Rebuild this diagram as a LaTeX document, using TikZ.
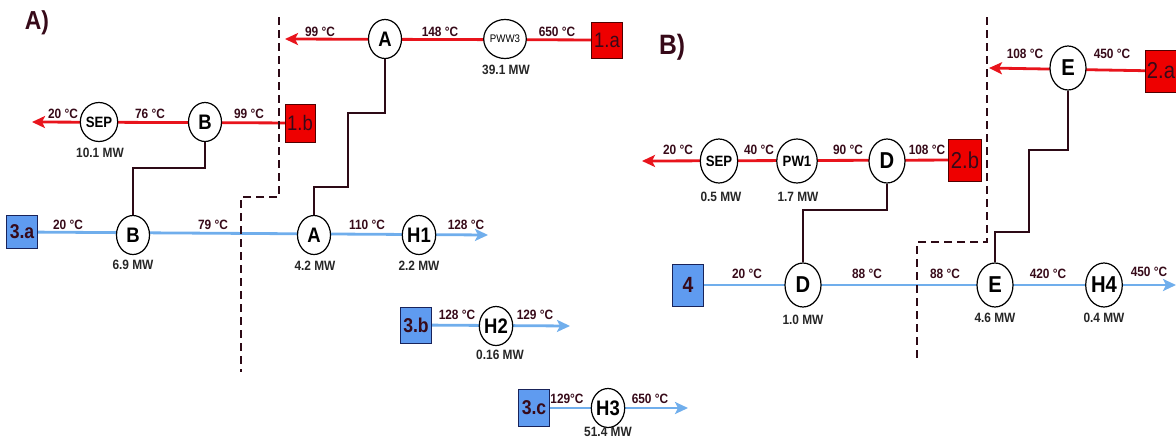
\documentclass[tikz,border=0pt]{standalone}
\usepackage{fontspec}
\setmainfont{Liberation Sans}[FakeStretch=0.88]
\usetikzlibrary{shapes.geometric,arrows.meta,backgrounds}
\definecolor{hotred}{RGB}{232,20,28}
\definecolor{coldblue}{RGB}{112,174,236}
\definecolor{boxblue}{RGB}{95,155,240}
\definecolor{boxblueb}{RGB}{25,35,90}
\definecolor{boxred}{RGB}{238,0,0}
\definecolor{boxredb}{RGB}{80,0,0}
\definecolor{txt}{RGB}{55,10,25}
\definecolor{linkc}{RGB}{45,10,22}
\begin{document}
\begin{tikzpicture}[x=1pt,y=-1pt,
  hot/.style={draw=hotred,line width=2.8pt},
  cold/.style={draw=coldblue,line width=2.8pt},
  hotarrow/.style={hot,-{Stealth[length=13pt,width=12pt,inset=3pt]}},
  coldarrow/.style={cold,-{Stealth[length=13pt,width=12pt,inset=3pt]}},
  link/.style={draw=linkc,line width=2.4pt},
  boundary/.style={draw=linkc,line width=2.3pt,dash pattern=on 8pt off 5pt},
  hxa/.style={ellipse,draw=black,line width=1.2pt,fill=white,minimum width=33pt,minimum height=39pt,inner sep=0pt,font=\bfseries\fontsize{21}{21}\selectfont},
  hxb/.style={hxa,minimum width=36pt,minimum height=44pt,font=\bfseries\fontsize{23}{23}\selectfont},
  hxs/.style={font=\bfseries\fontsize{15}{15}\selectfont},
  rbox/.style={rectangle,draw=boxredb,line width=1pt,fill=boxred,inner sep=0pt,text=txt,font=\fontsize{21}{21}\selectfont},
  bbox/.style={rectangle,draw=boxblueb,line width=1pt,fill=boxblue,inner sep=0pt,text=txt,font=\bfseries\fontsize{20}{20}\selectfont},
  lbl/.style={inner sep=0pt,text=txt,font=\bfseries\fontsize{13.5}{13.5}\selectfont},
  mw/.style={inner sep=0pt,text=black!85,font=\bfseries\fontsize{13.5}{13.5}\selectfont},
  ttl/.style={inner sep=0pt,text=txt,font=\bfseries\fontsize{26}{26}\selectfont}
]
\useasboundingbox (0,0) rectangle (1176,445);

% ================= Panel A =================
\node[ttl] (tA) at (37,23) {A)};

% hot stream 1.a
\node[rbox,minimum width=31pt,minimum height=36pt] (b1a) at (607,40) {1.a};
\node[hxa,font=\fontsize{11}{11}\selectfont] (pww3) at (505,39) {PWW3};
\node[hxa] (Ah) at (385,39) {A};
\coordinate (e1a) at (285,39);
\node[lbl] (l1) at (320,32) {99 °C};
\node[lbl] (l2) at (440,32) {148 °C};
\node[lbl] (l3) at (557,32) {650 °C};
\node[mw] (m1) at (506,70) {39.1 MW};

% hot stream 1.b
\node[rbox,minimum width=30pt,minimum height=38pt] (b1b) at (300,123) {1.b};
\node[hxa] (Bh) at (205,122) {B};
\node[hxa,hxs] (sepA) at (99,122) {SEP};
\coordinate (e1b) at (32,122);
\node[lbl] (l4) at (249,114) {99 °C};
\node[lbl] (l5) at (150,114) {76 °C};
\node[lbl] (l6) at (63,114) {20 °C};
\node[mw] (m2) at (100,153) {10.1 MW};

% cold stream 3.a
\node[bbox,minimum width=31pt,minimum height=33pt] (b3a) at (22,232) {3.a};
\node[hxa] (Bc) at (133,235) {B};
\node[hxa] (Ac) at (314,235) {A};
\node[hxa] (H1) at (419,235) {H1};
\coordinate (e3a) at (488,235);
\node[lbl] (l7) at (68,225) {20 °C};
\node[lbl] (l8) at (213,225) {79 °C};
\node[lbl] (l9) at (367,225) {110 °C};
\node[lbl] (l10) at (466,225) {128 °C};
\node[mw] (m3) at (133,265) {6.9 MW};
\node[mw] (m4) at (315,266) {4.2 MW};
\node[mw] (m5) at (419,266) {2.2 MW};

% cold stream 3.b
\node[bbox,minimum width=31pt,minimum height=36pt] (b3b) at (416,325) {3.b};
\node[hxa] (H2) at (496,326) {H2};
\coordinate (e3b) at (570,326);
\node[lbl] (l11) at (457,315) {128 °C};
\node[lbl] (l12) at (535,315) {129 °C};
\node[mw] (m6) at (500,355) {0.16 MW};

% cold stream 3.c
\node[bbox,minimum width=31pt,minimum height=37pt] (b3c) at (534,408) {3.c};
\node[hxa] (H3) at (608,408) {H3};
\coordinate (e3c) at (688,408);
\node[lbl] (l13) at (567,399) {129°C};
\node[lbl] (l14) at (650,399) {650 °C};
\node[mw] (m7) at (608,432) {51.4 MW};

% ================= Panel B =================
\node[ttl,font=\bfseries\fontsize{28}{28}\selectfont] (tB) at (672,47) {B)};

% hot stream 2.a
\node[rbox,minimum width=31pt,minimum height=42pt,font=\fontsize{23}{23}\selectfont] (b2a) at (1161,71) {2.a};
\node[hxb] (Eh) at (1068,68) {E};
\coordinate (e2a) at (989,68);
\node[lbl] (l15) at (1025,54) {108 °C};
\node[lbl] (l16) at (1112,54) {450 °C};

% hot stream 2.b
\node[rbox,minimum width=33pt,minimum height=42pt,font=\fontsize{23}{23}\selectfont] (b2b) at (965,160) {2.b};
\node[hxb] (Dh) at (887,161) {D};
\node[hxb,hxs] (pw1) at (797,161) {PW1};
\node[hxb,hxs] (sepB) at (719,161) {SEP};
\coordinate (e2b) at (642,161);
\node[lbl] (l17) at (927,150) {108 °C};
\node[lbl] (l18) at (848,150) {90 °C};
\node[lbl] (l19) at (759,150) {40 °C};
\node[lbl] (l20) at (678,150) {20 °C};
\node[mw] (m8) at (721,197) {0.5 MW};
\node[mw] (m9) at (798,197) {1.7 MW};

% cold stream 4
\node[bbox,minimum width=31pt,minimum height=42pt,font=\bfseries\fontsize{22}{22}\selectfont] (b4) at (688,285) {4};
\node[hxb] (Dc) at (803,285) {D};
\node[hxb] (Ec) at (995,285) {E};
\node[hxb] (H4) at (1104,285) {H4};
\coordinate (e4) at (1176,285);
\node[lbl] (l21) at (747,274) {20 °C};
\node[lbl] (l22) at (867,274) {88 °C};
\node[lbl] (l23) at (945,274) {88 °C};
\node[lbl] (l24) at (1048,274) {420 °C};
\node[lbl] (l25) at (1149,272) {450 °C};
\node[mw] (m10) at (803,320) {1.0 MW};
\node[mw] (m11) at (995,318) {4.6 MW};
\node[mw] (m12) at (1104,318) {0.4 MW};

% ================= streams and links (behind) =================
\begin{pgfonlayer}{background}
  \draw[hotarrow] (b1a.center) -- (e1a);
  \draw[hotarrow] (b1b.center) -- (e1b);
  \draw[coldarrow] (b3a.center) -- (e3a);
  \draw[coldarrow] (b3b.center) -- (e3b);
  \draw[coldarrow] (b3c.center) -- (e3c);
  \draw[hotarrow] (b2a.center) -- (e2a);
  \draw[hotarrow] (b2b.center) -- (e2b);
  \draw[coldarrow] (b4.center) -- (e4);
  % boundaries
  \draw[boundary] (279,17) -- (279,197) -- (241,197) -- (241,372);
  \draw[boundary] (987,17) -- (987,242) -- (917,242) -- (917,362);
\end{pgfonlayer}

% exchanger links
\draw[link] (Bh.south) |- (133,168) -- (Bc.north);
\draw[link] (Ah.south) |- (348,113) |- (314,187) -- (Ac.north);
\draw[link] (Dh.south) |- (803,210) -- (Dc.north);
\draw[link] (Eh.south) |- (1029,150) |- (995,232) -- (Ec.north);
\end{tikzpicture}
\end{document}
